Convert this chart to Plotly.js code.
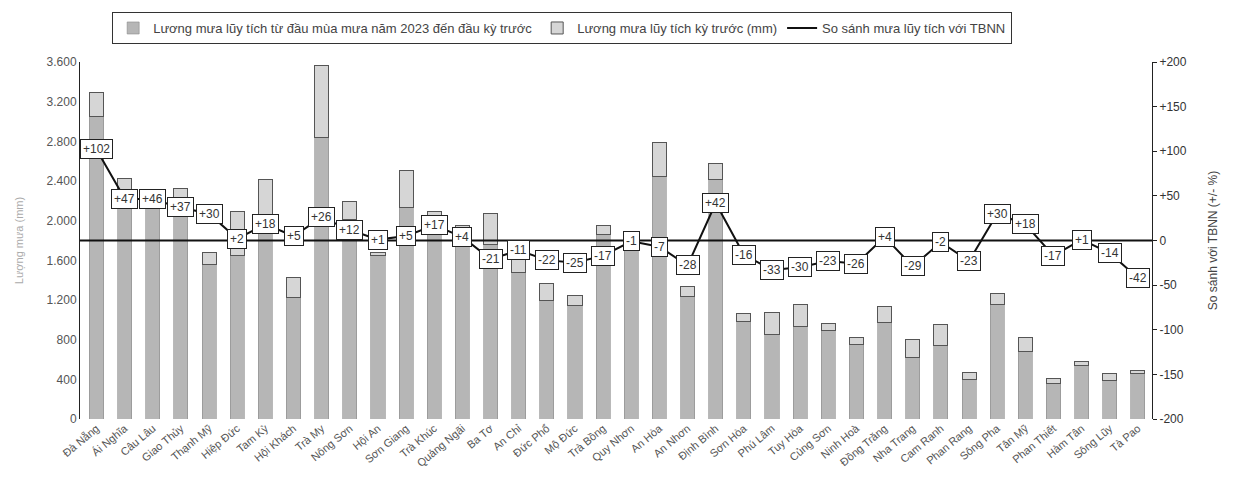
<!DOCTYPE html>
<html>
<head>
<meta charset="utf-8">
<script src="https://cdn.plot.ly/plotly-3.0.1.min.js"></script>
<style>
html,body{margin:0;padding:0;background:#fff;}
#chart{width:1234px;height:481px;}
</style>
</head>
<body>
<div id="chart"></div>
<script>
const stations = ["Đà Nẵng","Ái Nghĩa","Câu Lâu","Giao Thủy","Thạnh Mỹ","Hiệp Đức","Tam Kỳ","Hội Khách","Trà My","Nông Sơn","Hội An","Sơn Giang","Trà Khúc","Quảng Ngãi","Ba Tơ","An Chỉ","Đức Phổ","Mộ Đức","Trà Bồng","Quy Nhơn","An Hòa","An Nhơn","Định Bình","Sơn Hòa","Phú Lâm","Tuy Hòa","Củng Sơn","Ninh Hoà","Đồng Trăng","Nha Trang","Cam Ranh","Phan Rang","Sông Pha","Tân Mỹ","Phan Thiết","Hàm Tân","Sông Lũy","Tà Pao"];
const rainToPrev = [3050,2317,2280,2223,1557,1650,1990,1223,2840,2007,1645,2130,2057,1923,1757,1473,1190,1147,1857,1830,2450,1240,2417,983,850,937,897,750,973,623,740,397,1157,683,357,540,390,457];
const rainPrevPeriod = [247,106,37,100,120,440,427,200,723,190,32,373,40,27,313,234,177,100,93,50,340,93,163,80,223,220,66,73,157,174,217,76,110,134,50,40,73,33];
const compareTBNN = [102,47,46,37,30,2,18,5,26,12,1,5,17,4,-21,-11,-22,-25,-17,-1,-7,-28,42,-16,-33,-30,-23,-26,4,-29,-2,-23,30,18,-17,1,-14,-42];
const leftTickVals = [0,400,800,1200,1600,2000,2400,2800,3200,3600];
const leftTickText = ["0","400","800","1.200","1.600","2.000","2.400","2.800","3.200","3.600"];
const rightTickVals = [-200,-150,-100,-50,0,50,100,150,200];
const rightTickText = ["-200","-150","-100","-50","0","+50","+100","+150","+200"];
const seriesNames = ["Lương mưa lũy tích từ đầu mùa mưa năm 2023 đến đầu kỳ trước","Lương mưa lũy tích kỳ trước (mm)","So sánh mưa lũy tích với TBNN"];

const fontFam = '"Liberation Sans", Arial, sans-serif';

const traces = [
  {type:'bar', name:seriesNames[0], x:stations, y:rainToPrev,
   marker:{color:'#b6b6b6', line:{color:'#8a8a8a', width:0.6}}},
  {type:'bar', name:seriesNames[1], x:stations, y:rainPrevPeriod,
   marker:{color:'#d6d6d6', line:{color:'#555', width:1}}},
  {type:'scatter', mode:'lines', name:seriesNames[2], x:stations, y:compareTBNN, yaxis:'y2',
   line:{color:'#111', width:2}}
];

const annotations = stations.map((s,i)=>({
  x:s, y:compareTBNN[i], xref:'x', yref:'y2', showarrow:false,
  text:(compareTBNN[i]>0?'+':'')+compareTBNN[i],
  font:{family:fontFam, size:12, color:'#333'},
  bgcolor:'#fff', bordercolor:'#222', borderwidth:1, borderpad:2
}));

const layout = {
  width:1234, height:481,
  margin:{l:80, r:82, t:59, b:62},
  paper_bgcolor:'#fff', plot_bgcolor:'#fff',
  barmode:'stack', bargap:0.5,
  font:{family:fontFam, size:12, color:'#444'},
  showlegend:true,
  legend:{orientation:'h', x:0.03, y:1.14, xanchor:'left', yanchor:'top',
    bordercolor:'#333', borderwidth:1, bgcolor:'#fff',
    font:{family:fontFam, size:13, color:'#444'}, traceorder:'normal'},
  xaxis:{type:'category', tickangle:-40, tickfont:{size:11, color:'#555'},
    showline:false, ticks:'', showgrid:false, zeroline:false, automargin:false},
  yaxis:{range:[0,3600], tickvals:leftTickVals, ticktext:leftTickText,
    showline:true, linecolor:'#222', linewidth:1, ticks:'', showgrid:false, zeroline:false,
    tickfont:{size:12, color:'#555'},
    title:{text:'Lượng mưa (mm)', font:{size:11, color:'#aaa'}, standoff:20}},
  yaxis2:{range:[-200,200], overlaying:'y', side:'right', tickvals:rightTickVals, ticktext:rightTickText,
    showline:true, linecolor:'#222', linewidth:1, ticks:'outside', ticklen:4, tickcolor:'#222',
    showgrid:false, zeroline:false, tickfont:{size:12, color:'#333'},
    title:{text:'So sánh với TBNN (+/- %)', font:{size:12, color:'#444'}, standoff:22}},
  shapes:[{type:'line', xref:'paper', x0:0, x1:1, yref:'y2', y0:0, y1:0,
    line:{color:'#111', width:2}, layer:'above'}],
  annotations:annotations
};

Plotly.newPlot('chart', traces, layout, {displayModeBar:false, staticPlot:true});
</script>
</body>
</html>
